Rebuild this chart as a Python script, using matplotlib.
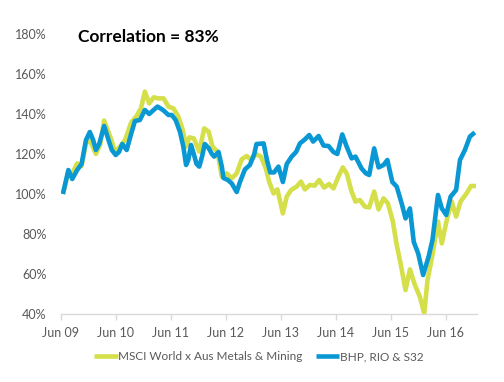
import matplotlib
matplotlib.use('Agg')
import matplotlib.pyplot as plt

plt.rcParams['font.family'] = ['Lato', 'DejaVu Sans']

# years since Jun 09, value in %
msci_t = [0.04, 0.14, 0.21, 0.30, 0.38, 0.46, 0.53, 0.64, 0.72, 0.79, 0.90, 0.99,
          1.08, 1.17, 1.28, 1.38, 1.46, 1.53, 1.61, 1.69, 1.78, 1.87, 1.96, 2.05,
          2.14, 2.22, 2.28, 2.34, 2.42, 2.52, 2.61, 2.69, 2.76, 2.85, 2.93, 3.02,
          3.11, 3.20, 3.29, 3.38, 3.47, 3.55, 3.64, 3.73, 3.79, 3.87, 3.94, 4.04,
          4.11, 4.19, 4.29, 4.37, 4.44, 4.53, 4.62, 4.70, 4.79, 4.88, 4.96, 5.05,
          5.13, 5.20, 5.29, 5.36, 5.44, 5.53, 5.61, 5.70, 5.78, 5.87, 5.95, 6.04,
          6.11, 6.18, 6.27, 6.35, 6.44, 6.53, 6.61, 6.67, 6.76, 6.86, 6.93, 7.02,
          7.11, 7.19, 7.27, 7.38, 7.46, 7.55]
msci_v = [100, 111, 110.3, 115.3, 114, 125.3, 127, 120, 125, 136.7, 128.7, 121.2,
          123.7, 127, 135.7, 139, 142.8, 151.2, 145.3, 148.3, 147.8, 147.8, 143.7, 142.8,
          138.7, 132, 123.7, 128.3, 127.8, 121.2, 132.8, 131.2, 123.7, 121.2, 108.7, 110.3,
          107.8, 110.3, 117.3, 119, 117, 120, 118.7, 112.8, 106.2, 100.3, 102.3, 90.3,
          98.7, 102, 103.7, 106.2, 102.3, 104.5, 104.2, 107, 103.2, 105, 102.8, 108.7,
          113.3, 110.3, 101.2, 96.2, 97, 93.7, 93.3, 101.2, 92.3, 97.8, 95.3, 86.2,
          74.5, 65.3, 52, 62.3, 54.5, 48.7, 40.3, 57, 69.5, 86.2, 75.3, 87,
          96.2, 88.7, 96.2, 100.3, 104, 104]

bhp_t = [0.04, 0.14, 0.21, 0.30, 0.38, 0.46, 0.53, 0.59, 0.64, 0.70, 0.79, 0.87,
         0.93, 1.00, 1.06, 1.12, 1.20, 1.28, 1.35, 1.44, 1.53, 1.61, 1.69, 1.76,
         1.86, 1.96, 2.02, 2.09, 2.17, 2.23, 2.28, 2.32, 2.37, 2.42, 2.47, 2.52,
         2.57, 2.62, 2.69, 2.75, 2.79, 2.87, 2.93, 2.96, 3.04, 3.11, 3.20, 3.26,
         3.35, 3.44, 3.52, 3.56, 3.69, 3.75, 3.81, 3.88, 3.96, 4.04, 4.11, 4.20,
         4.28, 4.35, 4.44, 4.52, 4.59, 4.69, 4.78, 4.87, 4.96, 5.03, 5.12, 5.20,
         5.29, 5.36, 5.47, 5.55, 5.61, 5.70, 5.78, 5.87, 5.94, 6.03, 6.11, 6.20,
         6.27, 6.35, 6.42, 6.50, 6.59, 6.69, 6.76, 6.86, 6.93, 7.01, 7.09, 7.19,
         7.26, 7.35, 7.44, 7.53]
bhp_v = [100, 112, 107.5, 112, 115, 127, 131, 127, 122, 125, 134, 127,
         122, 119.5, 121, 125, 122, 130, 136.5, 137, 142, 140, 142, 143.7,
         142, 139.5, 139.5, 137, 131, 123.7, 114.5, 117, 124.5, 120, 115, 113.7,
         118.7, 125, 123, 120, 118.7, 121, 113.7, 108, 107, 105.3, 101, 106,
         112.3, 114.5, 120, 125, 125.3, 117, 110.8, 110.8, 113.7, 106, 115, 118.7,
         121, 125.3, 127.3, 129.5, 126.2, 129, 124.2, 124, 121, 120, 129.8, 123.7,
         117.8, 118.7, 112.8, 110.3, 109.5, 122.8, 113.3, 114.5, 117, 106, 103.7, 95.3,
         87.8, 92.8, 76, 70.3, 59.5, 68.7, 77, 99.5, 92.8, 89.5, 98.7, 102,
         117, 122, 128.7, 130.8]

tick_labels = ['Jun 09', 'Jun 10', 'Jun 11', 'Jun 12', 'Jun 13', 'Jun 14', 'Jun 15', 'Jun 16']

green = '#d4df4a'
blue = '#0a98d4'
grey = '#595959'

fig = plt.figure(figsize=(5.04, 3.82), dpi=100)
ax = fig.add_axes([0.1204, 0.178, 0.8266, 0.733])

ax.plot(msci_t, msci_v, color=green, lw=3.3, solid_joinstyle='round',
        solid_capstyle='butt', label='MSCI World x Aus Metals & Mining')
ax.plot(bhp_t, bhp_v, color=blue, lw=3.3, solid_joinstyle='round',
        solid_capstyle='butt', label='BHP, RIO & S32')

ax.set_xlim(0, 7.575)
ax.set_ylim(40, 180)
ax.set_yticks(range(40, 181, 20))
ax.set_yticklabels([f'{v}%' for v in range(40, 181, 20)])
ax.set_xticks(range(8))
ax.set_xticklabels(tick_labels)

for s in ['top', 'right', 'left']:
    ax.spines[s].set_visible(False)
ax.spines['bottom'].set_color('#d9d9d9')
ax.spines['bottom'].set_linewidth(1)
ax.tick_params(axis='y', length=0, pad=10, labelsize=9, labelcolor=grey)
ax.tick_params(axis='x', length=4, width=1, color='#d9d9d9', pad=5,
               labelsize=9, labelcolor=grey)

ax.text(0.31, 178.5, 'Correlation = 83%', fontsize=12.5, fontweight='bold',
        color='black', va='center', ha='left')

ax.legend(loc='upper center', bbox_to_anchor=(0.476, -0.095), ncol=2, frameon=False,
          fontsize=8.5, handlelength=2.0, handletextpad=0.05, columnspacing=1.1,
          labelcolor=grey)

fig.savefig('out.png', dpi=100)
